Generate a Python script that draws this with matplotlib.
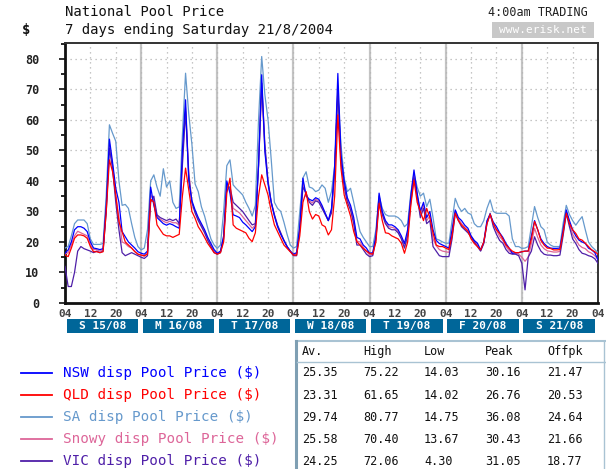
import matplotlib
matplotlib.use('Agg')
import matplotlib.pyplot as plt
from matplotlib.patches import Rectangle
from matplotlib.lines import Line2D
from matplotlib.ticker import MultipleLocator
import numpy as np

# ---------------- data (hourly, starting Sun 15/08 04:00) ----------------
nsw = [16.3,17.4,20,24,25,25,24.5,23.4,20,18,17.8,17.5,17.8,32,53.7,46,37.6,33,23.4,21.7,20,19,18,16.8,
       16.3,16,17,38,32,28,27,26,25.5,26,25.6,25,24.5,50,66.6,40,33.5,30.5,28,26,24,21.5,19.5,17.5,
       16.3,17,22,40,36,28.9,28.5,28,26.5,25.6,24.5,23.4,25,45,74.8,49.6,39,33,28.5,25,22.5,20.5,18.5,17,
       16,16.5,25,40.9,35,34,33.5,34.5,34,32,29.5,27,31,45,75.22,48.5,40,34.5,32,28,21.5,21,19,18,
       16.3,16.5,22,36,30,27,25.6,25.6,25,24,22,19.5,24,35,43.6,36,30,33,28,30,24,20.5,19.5,19,
       18.5,18,24,30.5,28,27,25.5,24.5,22,20.5,19.6,17.4,20,27,29,26.5,25,23,21.5,19.5,18,16.3,16.5,16.5,
       16.8,17,17,22,27,24,21,19.5,18.5,18,17.9,17.9,18,24,30.5,27,24,22,20.6,20,19.5,18,17.4,16.5,
       14.1]
qld = [15.7,15.2,18,21.2,22.3,22.3,22,21.2,18.5,16.8,16.8,16.5,16.8,30,46.9,43,35.4,26.7,23.4,20,19,18,16.8,16,
       15.7,15.5,16,34,33,25.6,24,22.5,22,22,21.5,22,22.5,35,44.2,37,30,27.8,25,23.4,21.5,19.5,18,16.5,
       16,16.5,20,36,40.9,25.6,24.5,24,23.5,23,21.2,20.1,23,35,42,38.7,35.4,30,25.6,23.4,21.2,19,17.9,16.8,
       15.7,15.7,22,33,36.5,30,27.5,29,28.5,25.6,25,22.3,24,35,61.65,44,35.4,32,28.5,23.4,20.1,19,17.9,17,
       16.3,16,20,32.7,27,23,22.8,22,21.5,21,19.6,16.3,20,32,40.3,33,30,27,31,28,23,19,18.5,18.5,
       18,17.5,22,29.4,27,25.5,24.5,23.5,21,19.5,18.5,17.4,20,26,29,26,24,22.8,21,19,17.9,17,16.5,16.5,
       16.8,17,17,21,26.7,24,20.5,19,18,17.9,17.4,17.4,17.5,23,29.4,26,24,22.8,21,20.6,19.6,18.5,17.4,16.8,
       16.0]
sa = [18,18.5,22,26,27.2,27.2,27.2,26,21,19.2,19.2,19.2,19.5,35.4,58.4,55.6,53,40,32,32.3,31,26,21.5,18.5,
      17.4,18,24,40,42,38,35,44,38,40,33,31,31.5,55,75.3,62,52,39,36.5,31.5,28.5,24.5,21,19,
      17.9,19,30,45,46.9,38.7,37.5,36.5,35.4,33,31,28.5,32,60,80.77,68.2,60,47,33,31,30,26.5,22.5,19,
      18,18.5,30,41,43,38,37.6,36.5,37,38.7,37.6,33,36.5,45,68.2,51.8,40.9,36.5,37.6,33,28,23.4,21.5,20,
      18.5,18.5,24,35,31,29,28.5,28.5,28.5,28,27,25,26,36,42.5,38,35,36,31.6,34,28,21,20.6,20,
      19.6,19.6,27,34.3,31.6,30,31,29.5,29,26,25,25,27,31,33.8,30,29.4,29.4,29.4,29.4,28.5,21,18.5,18.5,
      17.9,18,18.5,25,31.6,28,25,24,20,19,18.5,18.5,18.5,26,32,29,27,25.5,27,28.3,24,20,18.5,17.5,
      16.5]
snowy = [16,16.5,19,22,23.5,23,22.5,22,19,17.5,17.5,17,17.5,31,52,45,35,28,20,19.5,18.5,18,17,16,
         15.7,15.3,16.5,35.5,33.5,28.5,27.5,26.8,26.3,26.8,26.3,26.3,25.5,47,64,43,33,30,27.5,25.5,23.5,21,19,17,
         16.2,16.8,21.5,39,37,31,30.3,29.5,28.3,27,25.8,24.5,25.5,45,70.4,50.5,39.5,33,28.8,25.3,22.8,20.5,18.5,17,
         15.8,16,24.5,39.5,35.5,33.5,32.8,34,33.5,31.5,29.3,27,30.3,44,69,47,39,33.8,31.3,27,20.3,20,18.3,17,
         15.8,16,21.5,35,29.5,26.5,25,24.8,24.5,23.5,21.5,18.8,23,34,42.3,35.5,29,32,27,28.5,21,18.8,17.5,17,
         16.8,16.6,22.5,30,27.5,26,24.8,23.8,21.8,20.3,19,17.2,19.8,26.5,29.2,25.8,23.8,21.8,20.5,18.5,17.2,16.2,16.2,16,
         15,13.67,15,19.5,24.5,21.5,19,17.8,17.1,16.9,16.7,16.7,16.9,23,30,26,22.5,20.8,19,18.2,17.8,16.8,16.3,15.5,
         14.3]
vic = [12,5.4,5.4,10,17,18.5,17.8,17.4,17,16.5,17,16.5,17,30,50.7,44,33,24,16.5,15.5,16,16.5,16,15.5,
       15,14.6,15.5,33,35,28.9,28,27.5,27,27.5,27,27.5,26,45,62.7,42,33,29.5,27,25,23,20.5,18.5,16.5,
       16,16.5,21,38,38,33,32,31,30,28.5,27,25.6,26,45,72.06,52,40,33,29,25.5,23,20.5,18.5,17,
       15.5,15.5,24,38,36,33,32,33.5,33,31,29,27,29.5,43,70,46,38,33,30.5,26,19,19,17.5,16,
       15.2,15.5,21,34,29,26,24.5,24,24,23,21,18,22,33,41,35,28,31,26,27,18.5,17,15.5,15.2,
       15.2,15.2,21,29.4,27,25,24,23,21.7,20,18.5,17,19.5,26,29.4,25,22.5,20.5,19.6,17.5,16.3,16,16,15.5,
       13,4.3,15,17,21.7,19,17,16,15.7,15.7,15.5,15.5,15.7,22,29.4,25,21,19.5,17.5,16.3,16,15.5,15.2,14.5,
       13.0]

series_names = ['NSW disp Pool Price ($)', 'QLD disp Pool Price ($)', 'SA disp Pool Price ($)',
                'Snowy disp Pool Price ($)', 'VIC disp Pool Price ($)']
series_vals = [nsw, qld, sa, snowy, vic]
series_colors = ['#0000ff', '#ff0000', '#6699cc', '#dd6699', '#4f1fa8']

day_labels = ['S 15/08', 'M 16/08', 'T 17/08', 'W 18/08', 'T 19/08', 'F 20/08', 'S 21/08']
hour_labels = ['04', '12', '20']

stat_headers = ['Av.', 'High', 'Low', 'Peak', 'Offpk']
stat_rows = [['25.35', '75.22', '14.03', '30.16', '21.47'],
             ['23.31', '61.65', '14.02', '26.76', '20.53'],
             ['29.74', '80.77', '14.75', '36.08', '24.64'],
             ['25.58', '70.40', '13.67', '30.43', '21.66'],
             ['24.25', '72.06', '4.30', '31.05', '18.77']]

# ---------------- figure ----------------
FONT = 'DejaVu Sans Mono'
plt.rcParams['font.family'] = [FONT, 'DejaVu Sans']

W, H = 606, 469
fig = plt.figure(figsize=(W / 100, H / 100), dpi=100)


def fx(px):
    return px / W


def fy(py):
    return 1 - py / H


ax = fig.add_axes([fx(65), fy(303), fx(598) - fx(65), fy(43) - fy(303)])

hours = np.arange(len(nsw))
ndays = len(day_labels)
xmax = ndays * 24

# grid
tick_pos = np.arange(0, xmax + 1, 8)
ax.set_xticks(tick_pos)
ax.set_xticklabels(hour_labels * ndays + [hour_labels[0]])
ax.set_xlim(0, xmax)
ax.set_ylim(0, 85.2)
ax.set_yticks(np.arange(0, 81, 10))
ax.yaxis.set_minor_locator(MultipleLocator(5))
ax.grid(True, which='major', linestyle=(0, (1, 3)), color='#b4b4b4', linewidth=0.9)
for d in range(1, ndays):
    ax.axvline(d * 24, color='#c4c4c4', linewidth=1.6, zorder=1)

# draw series (SA, Snowy, VIC, NSW, QLD order)
order = [2, 3, 4, 0, 1]
for i in order:
    ax.plot(hours, series_vals[i], color=series_colors[i], linewidth=0.9, zorder=3)

for s in ['left', 'bottom']:
    ax.spines[s].set_linewidth(2.0)
    ax.spines[s].set_color('#111111')
for s in ['top', 'right']:
    ax.spines[s].set_linewidth(1.4)
    ax.spines[s].set_color('#333333')

ax.tick_params(axis='x', length=0, pad=4, labelsize=8, colors='#444444')
ax.tick_params(axis='y', which='major', direction='out', length=4.5, width=1.3, pad=14,
               labelsize=8.5, colors='#222222')
ax.tick_params(axis='y', which='minor', direction='out', length=3, width=1.2)
for lab in ax.get_yticklabels() + ax.get_xticklabels():
    lab.set_fontweight('bold')

# day boxes
for d, lab in enumerate(day_labels):
    ax.add_patch(Rectangle((d * 24 + 0.5, -0.117), 22.5, 0.056,
                           transform=ax.get_xaxis_transform(), clip_on=False,
                           facecolor='#006699', edgecolor='none'))
    ax.text(d * 24 + 11.75, -0.089, lab, transform=ax.get_xaxis_transform(),
            ha='center', va='center', color='white', fontsize=8, fontweight='bold')

# titles
fig.text(fx(65), fy(12), 'National Pool Price', fontsize=10, va='center', ha='left', color='#111111')
fig.text(fx(65), fy(30), '7 days ending Saturday 21/8/2004', fontsize=10, va='center', ha='left',
         color='#111111')
fig.text(fx(22), fy(30), '$', fontsize=10, va='center', ha='left', fontweight='bold', color='#111111')
fig.text(fx(588), fy(13), '4:00am TRADING', fontsize=8.5, va='center', ha='right', color='#222222')
fig.add_artist(Rectangle((fx(492), fy(38)), fx(594) - fx(492), fy(22) - fy(38),
                         transform=fig.transFigure, facecolor='#c8c8c8', edgecolor='none'))
fig.text(fx(543), fy(30), 'www.erisk.net', fontsize=8, va='center', ha='center', color='white')

# legend
row_y = [373, 395, 417, 439, 461]
for i, name in enumerate(series_names):
    fig.add_artist(Line2D([fx(21), fx(52)], [fy(row_y[i]), fy(row_y[i])],
                          transform=fig.transFigure, color=series_colors[i], linewidth=1.3))
    fig.text(fx(63), fy(row_y[i]), name, fontsize=10.3, va='center', ha='left', color=series_colors[i])

# table
tcol = '#a9c3d3'
fig.add_artist(Line2D([fx(296), fx(606)], [fy(341), fy(341)], transform=fig.transFigure,
                      color=tcol, linewidth=1.5))
fig.add_artist(Line2D([fx(296), fx(296)], [fy(341), fy(469)], transform=fig.transFigure,
                      color='#7f9fb3', linewidth=2.2))
fig.add_artist(Line2D([fx(297), fx(606)], [fy(362), fy(362)], transform=fig.transFigure,
                      color=tcol, linewidth=1.0))
fig.add_artist(Line2D([fx(604), fx(604)], [fy(341), fy(469)], transform=fig.transFigure,
                      color=tcol, linewidth=1.0))
col_x = [302, 363, 424, 485, 547]
for j, hdr in enumerate(stat_headers):
    fig.text(fx(col_x[j]), fy(351), hdr, fontsize=8.5, va='center', ha='left', color='#111111')
for i, row in enumerate(stat_rows):
    for j, val in enumerate(row):
        fig.text(fx(col_x[j]), fy(row_y[i]), val, fontsize=8.5, va='center', ha='left', color='#111111')

fig.savefig('out.png', dpi=100)
